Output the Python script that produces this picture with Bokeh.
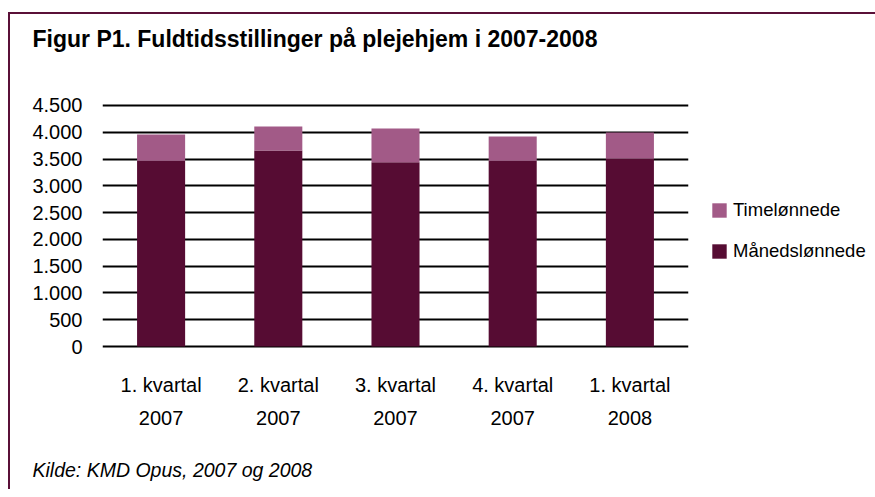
from bokeh.plotting import figure
from bokeh.models import (Range1d, FixedTicker, LinearAxis, Legend, LegendItem, Title,
                          ColumnDataSource, Grid)
from bokeh.embed import file_html
from bokeh.resources import INLINE

# ---- data ----
quarters = ["1. kvartal", "2. kvartal", "3. kvartal", "4. kvartal", "1. kvartal"]
years = ["2007", "2007", "2007", "2007", "2008"]
maanedsloennede = [3470, 3660, 3440, 3470, 3510]
timeloennede = [490, 450, 630, 450, 485]
y_ticks = [0, 500, 1000, 1500, 2000, 2500, 3000, 3500, 4000, 4500]
y_tick_labels = ["0", "500", "1.000", "1.500", "2.000", "2.500", "3.000", "3.500", "4.000", "4.500"]
series_names = ["Månedslønnede", "Timelønnede"]

DARK = "#560C33"
LIGHT = "#A25A87"
BORDER = "#5A1038"
FONT = "Liberation Sans"

xs = list(range(len(quarters)))
src = ColumnDataSource(dict(x=xs, m=maanedsloennede, t=timeloennede))

p = figure(frame_width=586, frame_height=247, output_backend="svg", toolbar_location=None,
           x_range=Range1d(-0.5, 4.5), y_range=Range1d(-56, 4556),
           x_axis_location=None, y_axis_location=None,
           min_border_left=102, min_border_right=179, min_border_top=102, min_border_bottom=140)
p.outline_line_color = None
p.background_fill_color = "white"
p.border_fill_alpha = 0
p.styles = {
    "background": ("linear-gradient(%s,%s) 8px 12px / 100%% 2px no-repeat, "
                   "linear-gradient(%s,%s) 8px 12px / 2px 100%% no-repeat, white")
                  % (BORDER, BORDER, BORDER, BORDER)
}
p.title.text = ""
p.title.standoff = 0

for g in p.grid:
    g.visible = False

grid = Grid(dimension=1, ticker=FixedTicker(ticks=y_ticks), grid_line_color="black", grid_line_width=2)
p.add_layout(grid)

rs = p.vbar_stack(["m", "t"], x="x", width=0.41, color=[DARK, LIGHT], line_color=None, source=src)

yax = LinearAxis(ticker=FixedTicker(ticks=y_ticks),
                 major_label_overrides={t: l for t, l in zip(y_ticks, y_tick_labels)},
                 axis_line_color=None, major_tick_line_color=None, minor_tick_line_color=None,
                 major_tick_out=0, major_tick_in=0, major_label_standoff=20,
                 major_label_text_font=FONT, major_label_text_font_size="20px",
                 major_label_text_color="black")
p.add_layout(yax, "left")

def xaxis(labels, standoff):
    return LinearAxis(ticker=FixedTicker(ticks=xs),
                      major_label_overrides={i: l for i, l in zip(xs, labels)},
                      axis_line_color=None, major_tick_line_color=None, minor_tick_line_color=None,
                      major_tick_out=0, major_tick_in=0, major_label_standoff=standoff,
                      major_label_text_font=FONT, major_label_text_font_size="20px",
                      major_label_text_color="black")

p.add_layout(xaxis(quarters, 24), "below")
p.add_layout(xaxis(years, 12), "below")

# spacer + main title above the frame
p.add_layout(Title(text=" ", text_font_size="1px", standoff=48), "above")
p.add_layout(Title(text="Figur P1. Fuldtidsstillinger på plejehjem i 2007-2008",
                   text_font=FONT, text_font_style="bold", text_font_size="23px",
                   text_color="black", align="left", offset=-70, standoff=0), "above")

# spacer + source note below the axes
p.add_layout(Title(text=" ", text_font_size="1px", standoff=26), "below")
p.add_layout(Title(text="Kilde: KMD Opus, 2007 og 2008", text_font=FONT, text_font_style="italic",
                   text_font_size="19.5px", text_color="black", align="left", offset=-70,
                   standoff=0), "below")

legend = Legend(items=[LegendItem(label=series_names[1], renderers=[rs[1]]),
                       LegendItem(label=series_names[0], renderers=[rs[0]])],
                location=(22, 87), glyph_width=18, glyph_height=18, spacing=19,
                label_standoff=5, padding=0, margin=0, border_line_color=None,
                background_fill_alpha=0, label_text_font=FONT, label_text_font_size="18.5px",
                label_text_color="black")
p.add_layout(legend, "right")

open("out.html", "w").write(file_html(p, INLINE))
